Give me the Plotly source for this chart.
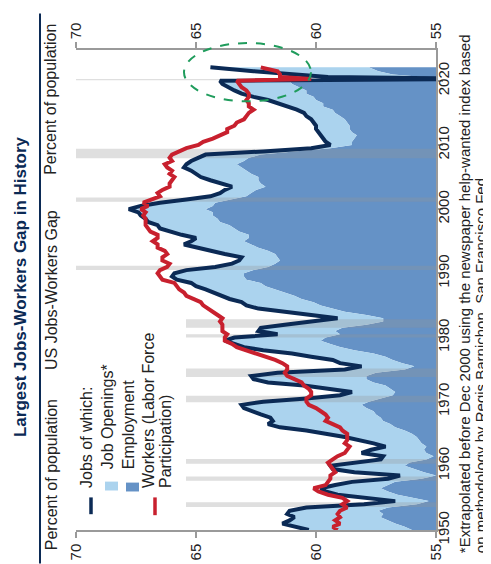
"""
Largest Jobs-Workers Gap in History
-----------------------------------
Chart is drawn turned a quarter turn: value axis runs across, years run up.
"""
import plotly.graph_objects as go

# --------------------------------------------------------------------
#                               Data
# --------------------------------------------------------------------
# half-year samples, plus a few points around the 2020 drop
years = [1950 + 0.5 * i for i in range(140)] + \
        [2020.0, 2020.3, 2020.6, 2021.0, 2021.5, 2022.1]

# Employment (percent of population)
employment = [
    56.0, 56.3, 56.7, 57.0, 57.3, 57.2, 57.4, 57.0, 55.8, 55.3,
    55.9, 56.6, 57.0, 57.3, 57.0, 56.7, 55.6, 55.0, 55.5, 55.9,
    56.3, 56.1, 55.4, 55.1, 55.4, 55.5, 55.4, 55.6, 55.7, 55.8,
    56.0, 56.3, 56.7, 56.9, 57.2, 57.3, 57.5, 57.6, 57.9, 58.1,
    57.8, 57.3, 56.8, 56.7, 56.9, 57.1, 57.6, 57.9, 57.9, 57.5,
    56.3, 55.9, 56.4, 56.8, 57.1, 57.6, 58.4, 59.0, 59.4, 59.8,
    59.6, 59.0, 59.2, 58.9, 57.9, 57.2, 57.2, 57.9, 58.8, 59.3,
    59.8, 60.1, 60.6, 60.9, 61.3, 61.7, 62.1, 62.3, 62.9, 63.0,
    63.0, 62.6, 62.0, 61.7, 61.5, 61.6, 61.7, 62.0, 62.4, 62.7,
    63.0, 62.8, 62.8, 63.2, 63.4, 63.6, 64.0, 64.1, 64.3, 64.3,
    64.6, 64.3, 64.2, 63.6, 62.9, 62.7, 62.5, 62.1, 62.3, 62.4,
    62.4, 62.7, 62.9, 63.1, 63.3, 63.0, 62.8, 62.3, 61.0, 59.4,
    58.5, 58.5, 58.4, 58.3, 58.5, 58.6, 58.6, 58.7, 58.8, 59.0,
    59.2, 59.3, 59.7, 59.7, 60.0, 60.1, 60.4, 60.4, 60.7, 61.0,
    61.1, 51.3, 55.5, 56.8, 57.4, 57.8,
]

# Jobs = employment + job openings (percent of population)
jobs = [
    60.3, 60.9, 61.4, 61.1, 60.9, 61.2, 61.1, 60.4, 58.0, 56.7,
    57.9, 59.1, 59.6, 59.8, 59.2, 58.5, 57.0, 56.5, 58.4, 59.3,
    59.4, 58.4, 57.3, 57.2, 58.1, 57.7, 57.1, 57.6, 58.2, 58.8,
    59.6, 60.4, 61.5, 62.0, 61.8, 61.9, 62.3, 62.6, 63.0, 63.1,
    62.2, 60.4, 59.0, 58.5, 59.6, 60.5, 62.0, 62.6, 62.7, 61.6,
    58.8, 58.1, 59.0, 59.3, 60.2, 61.0, 62.2, 63.0, 63.4, 63.8,
    63.4, 61.6, 62.4, 62.3, 61.3, 60.2, 59.1, 60.2, 61.5, 62.4,
    62.9, 63.1, 63.6, 63.9, 64.2, 64.6, 65.0, 65.2, 65.8, 66.0,
    65.9, 65.4, 64.2, 63.5, 63.2, 63.1, 63.8, 64.4, 65.0, 65.5,
    65.2, 65.0, 65.6, 66.1, 66.5, 66.6, 67.0, 67.1, 67.3, 67.4,
    67.8, 67.3, 66.5, 65.4, 64.4, 64.0, 63.8, 63.5, 64.0, 64.4,
    64.8, 65.0, 65.2, 65.5, 65.4, 65.2, 64.9, 64.6, 62.2, 60.2,
    59.4, 59.6, 59.7, 59.8, 59.9, 60.0, 60.0, 60.1, 60.2, 60.4,
    60.5, 60.8, 61.2, 61.6, 62.0, 62.6, 63.1, 63.4, 63.7, 63.9,
    64.0, 53.0, 59.5, 61.0, 62.6, 64.4,
]

# Workers (labor force participation, percent of population)
participation = [
    59.1, 59.3, 59.0, 59.2, 59.0, 59.1, 59.0, 58.7, 58.9, 58.7,
    58.9, 59.5, 59.9, 60.1, 59.6, 59.5, 59.4, 59.4, 59.2, 59.3,
    59.4, 59.5, 59.3, 59.1, 58.8, 58.7, 58.6, 58.8, 58.7, 58.7,
    58.7, 58.9, 59.0, 59.3, 59.6, 59.5, 59.6, 59.8, 60.0, 60.3,
    60.4, 60.4, 60.2, 60.2, 60.3, 60.5, 60.6, 60.9, 61.2, 61.3,
    61.2, 61.2, 61.4, 61.7, 62.1, 62.4, 62.9, 63.3, 63.5, 63.8,
    63.8, 63.7, 63.9, 63.9, 63.9, 64.0, 63.9, 64.1, 64.3, 64.5,
    64.7, 64.8, 65.1, 65.4, 65.5, 65.7, 65.8, 65.9, 66.4, 66.5,
    66.6, 66.5, 66.2, 66.1, 66.4, 66.4, 66.2, 66.3, 66.6, 66.6,
    66.8, 66.6, 66.6, 66.9, 67.0, 67.1, 67.1, 67.1, 67.2, 67.1,
    67.3, 67.0, 67.2, 66.8, 66.5, 66.6, 66.4, 66.1, 66.1, 66.0,
    65.9, 66.1, 66.0, 66.2, 66.3, 66.0, 66.1, 66.0, 65.7, 65.4,
    64.9, 64.7, 64.3, 64.0, 63.7, 63.7, 63.4, 63.3, 63.0, 62.9,
    62.8, 62.6, 62.8, 62.8, 62.9, 62.8, 62.8, 62.9, 63.1, 63.2,
    63.3, 60.2, 61.5, 61.5, 61.6, 62.3,
]

# NBER recessions (start, end)
recessions = [(1953.58, 1954.33), (1957.67, 1958.33), (1960.33, 1961.08),
              (1969.92, 1970.92), (1973.83, 1975.17), (1980.0, 1980.5),
              (1981.5, 1982.83), (1990.5, 1991.17), (2001.17, 2001.83),
              (2007.92, 2009.42), (2020.08, 2020.3)]

value_ticks = [55, 60, 65, 70]
year_ticks = [1950, 1960, 1970, 1980, 1990, 2000, 2010, 2020]

# --------------------------------------------------------------------
#                               Style
# --------------------------------------------------------------------
NAVY = '#0b2a55'
RED = '#c8202e'
LIGHT = '#abd3ee'
MID = '#6592c6'
GREY = '#9a9a9a'
FONT = 'Arial, Liberation Sans, sans-serif'

W, H = 491, 564
L, R, T, B = 68, 63, 42, 36


def px(x):
    """pixel column -> paper x"""
    return (x - L) / (W - L - R)


def py(y):
    """pixel row -> paper y"""
    return (H - B - y) / (H - T - B)


# --------------------------------------------------------------------
#                               Plot
# --------------------------------------------------------------------
fig = go.Figure()

# Employment area (from the axis floor)
fig.add_trace(go.Scatter(x=employment, y=years, mode='lines',
    line=dict(width=0, color=MID), fill='tozerox', fillcolor=MID,
    hoverinfo='skip'))

# Job openings area (between employment and jobs)
fig.add_trace(go.Scatter(x=jobs, y=years, mode='lines',
    line=dict(width=0, color=LIGHT), fill='tonextx', fillcolor=LIGHT,
    hoverinfo='skip'))

# Recession bands
band_x, band_y = [], []
for start, end in recessions:
    band_x += [70, 55, 55, 70, 70, None]
    band_y += [start, start, end, end, start, None]
fig.add_trace(go.Scatter(x=band_x, y=band_y, mode='lines',
    line=dict(width=0), fill='toself',
    fillcolor='rgba(150,150,150,0.30)', hoverinfo='skip'))

# Jobs line
fig.add_trace(go.Scatter(x=jobs, y=years, mode='lines',
    line=dict(color=NAVY, width=4), name='Jobs'))

# Workers line
fig.add_trace(go.Scatter(x=participation, y=years, mode='lines',
    line=dict(color=RED, width=4), name='Workers'))

# dummy trace so the top axis is drawn
fig.add_trace(go.Scatter(x=[None], y=[None], xaxis='x2',
    hoverinfo='skip'))

axis_common = dict(range=[70, 55], tickvals=value_ticks, tickangle=-90,
    ticks='outside', ticklen=6, tickwidth=1.5, tickcolor=GREY,
    showline=True, linecolor=GREY, linewidth=1.5, showgrid=False,
    zeroline=False, tickfont=dict(family=FONT, size=15, color='#222'))

# --------------------------------------------
# Hand-made legend, titles, notes
# --------------------------------------------
shapes = [
    # navy rule under the title
    dict(type='line', xref='paper', yref='paper', x0=px(32), x1=px(32),
         y0=py(5), y1=py(562), line=dict(color=NAVY, width=2)),
    # legend background
    dict(type='rect', xref='paper', yref='paper', x0=0, x1=px(178),
         y0=0, y1=py(305), fillcolor='white', line=dict(width=0)),
    dict(type='line', xref='paper', yref='paper', x0=px(83), x1=px(83),
         y0=py(512), y1=py(495), line=dict(color=NAVY, width=3.5)),
    dict(type='rect', xref='paper', yref='paper', x0=px(97), x1=px(110),
         y0=py(488), y1=py(479), fillcolor=LIGHT, line=dict(width=0)),
    dict(type='rect', xref='paper', yref='paper', x0=px(118), x1=px(131),
         y0=py(489), y1=py(480), fillcolor=MID, line=dict(width=0)),
    dict(type='line', xref='paper', yref='paper', x0=px(147), x1=px(147),
         y0=py(513), y1=py(495), line=dict(color=RED, width=3.5)),
    # dashed ellipse around the latest gap
    dict(type='circle', xref='paper', yref='paper', x0=px(176), x1=px(303),
         y0=py(94), y1=py(35), line=dict(color='#1f9c5c', width=2,
         dash='dash')),
]

# rotated text sits ~5px right of its box centre, so x values are nudged
SHIFT = 5


def note(text, x, y, yanchor, size=16, color='#222'):
    return dict(text=text, xref='paper', yref='paper', x=px(x - SHIFT),
                y=py(y), xanchor='center', yanchor=yanchor, textangle=-90,
                showarrow=False, font=dict(family=FONT, size=size,
                color=color))


annotations = [
    note('<b>Largest Jobs-Workers Gap in History</b>', 17, 282, 'middle',
         size=17, color=NAVY),
    note('Percent of population', 48, 551, 'bottom'),
    note('US Jobs-Workers Gap', 48, 285, 'middle'),
    note('Percent of population', 48, 14, 'top'),
    note('Jobs of which:', 84, 488, 'bottom'),
    note('Job Openings*', 104, 469, 'bottom'),
    note('Employment', 125, 469, 'bottom'),
    note('Workers (Labor Force', 146, 488, 'bottom'),
    note('Participation)', 163, 488, 'bottom'),
    note('*Extrapolated before Dec 2000 using the newspaper '
         'help-wanted index based', 461, 554, 'bottom', size=15),
    note('on methodology by Regis Barnichon, San Francisco Fed.',
         477, 554, 'bottom', size=15),
]

fig.update_layout(
    width=W, height=H, margin=dict(l=L, r=R, t=T, b=B),
    paper_bgcolor='white', plot_bgcolor='white', showlegend=False,
    xaxis=dict(**axis_common, side='bottom'),
    xaxis2=dict(**axis_common, side='top', overlaying='x', anchor='y'),
    yaxis=dict(range=[1950, 2024.8], side='right', tickvals=year_ticks,
               tickangle=-90, ticks='outside', ticklen=5, tickwidth=1.5,
               tickcolor=GREY, showline=True, linecolor=GREY, linewidth=1.5,
               showgrid=False, zeroline=False, ticklabelstandoff=-12,
               tickfont=dict(family=FONT, size=15, color='#222')),
    shapes=shapes, annotations=annotations)

# Save as html
fig.write_html('out.html')
